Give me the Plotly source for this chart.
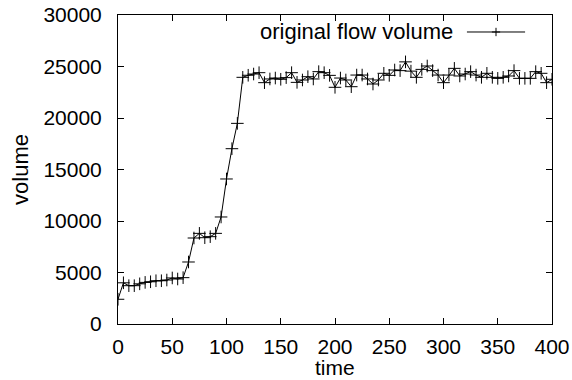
import plotly.graph_objects as go

time = [0, 5, 10, 15, 20, 25, 30, 35, 40, 45, 50, 55, 60, 65, 70, 75, 80, 85, 90, 95,
        100, 105, 110, 115, 120, 125, 130, 135, 140, 145, 150, 155, 160, 165, 170, 175,
        180, 185, 190, 195, 200, 205, 210, 215, 220, 225, 230, 235, 240, 245, 250, 255,
        260, 265, 270, 275, 280, 285, 290, 295, 300, 305, 310, 315, 320, 325, 330, 335,
        340, 345, 350, 355, 360, 365, 370, 375, 380, 385, 390, 395, 400]
volume = [2400, 4000, 3720, 3720, 3900, 4040, 4100, 4200, 4200, 4270, 4470, 4370, 4500,
          6020, 8350, 8800, 8380, 8480, 8800, 10390, 14080, 17020, 19480, 23950, 24150,
          24270, 24400, 23430, 23790, 23880, 23760, 23920, 24400, 23460, 23690, 24010,
          23790, 24500, 24400, 24140, 22980, 23880, 23690, 23040, 24170, 24170, 23790,
          23300, 23690, 24340, 24140, 24660, 24600, 25450, 24550, 23950, 24720, 25050,
          24600, 24170, 23430, 24170, 24820, 24080, 24270, 24500, 24170, 23950, 24340,
          23950, 23850, 23950, 24080, 24600, 23850, 23850, 23850, 24500, 24340, 23430,
          23760]
series_name = "original flow volume"
x_title = "time"
y_title = "volume"
x_ticks = [0, 50, 100, 150, 200, 250, 300, 350, 400]
y_ticks = [0, 5000, 10000, 15000, 20000, 25000, 30000]

FONT = "Liberation Sans, Arial, Helvetica, sans-serif"
TICK_FS = 21
TEXT_FS = 22

fig = go.Figure()
fig.add_trace(go.Scatter(
    x=time, y=volume, mode="lines+markers", name=series_name,
    line=dict(color="black", width=1),
    marker=dict(symbol="cross-thin", size=9, line=dict(color="black", width=1)),
    showlegend=False,
))

axis_common = dict(
    showgrid=False, zeroline=False, showline=True, linecolor="black", linewidth=1,
    mirror="allticks", ticks="inside", ticklen=6, tickcolor="black", tickwidth=1,
    tickfont=dict(family=FONT, size=TICK_FS, color="black"), automargin=False,
)
fig.update_xaxes(range=[0, 400], tickvals=x_ticks, tickformat="d",
                 ticklabelstandoff=4, **axis_common)
fig.update_yaxes(range=[0, 30000], tickvals=y_ticks, tickformat="d",
                 title=dict(text=y_title, standoff=8,
                            font=dict(family=FONT, size=TEXT_FS, color="black")),
                 ticklabelstandoff=11, **axis_common)

# x-axis title placed like gnuplot, tight under the tick labels
fig.add_annotation(text=x_title, xref="paper", yref="paper", x=0.5, y=-0.1812,
                   xanchor="center", yanchor="bottom", showarrow=False, borderpad=0,
                   font=dict(family=FONT, size=21, color="black"))

# gnuplot-style legend key: text then line sample with marker
lx0, lx1, ly = 0.804, 0.938, 0.945
lxm = (lx0 + lx1) / 2
fig.add_annotation(text=series_name, xref="paper", yref="paper", x=0.776, y=ly,
                   xanchor="right", yanchor="middle", showarrow=False,
                   font=dict(family=FONT, size=TEXT_FS, color="black"))
fig.add_shape(type="line", xref="paper", yref="paper", x0=lx0, x1=lx1, y0=ly, y1=ly,
              line=dict(color="black", width=1))
fig.add_shape(type="line", xref="paper", yref="paper", x0=lxm - 0.0095, x1=lxm + 0.0095,
              y0=ly, y1=ly, line=dict(color="black", width=1))
fig.add_shape(type="line", xref="paper", yref="paper", x0=lxm, x1=lxm,
              y0=ly - 0.0135, y1=ly + 0.0135, line=dict(color="black", width=1))

fig.update_layout(
    width=572, height=380,
    margin=dict(l=118, r=20, t=15, b=56),
    paper_bgcolor="white", plot_bgcolor="white",
    font=dict(family=FONT, size=TICK_FS, color="black"),
)
fig.write_html("out.html")
